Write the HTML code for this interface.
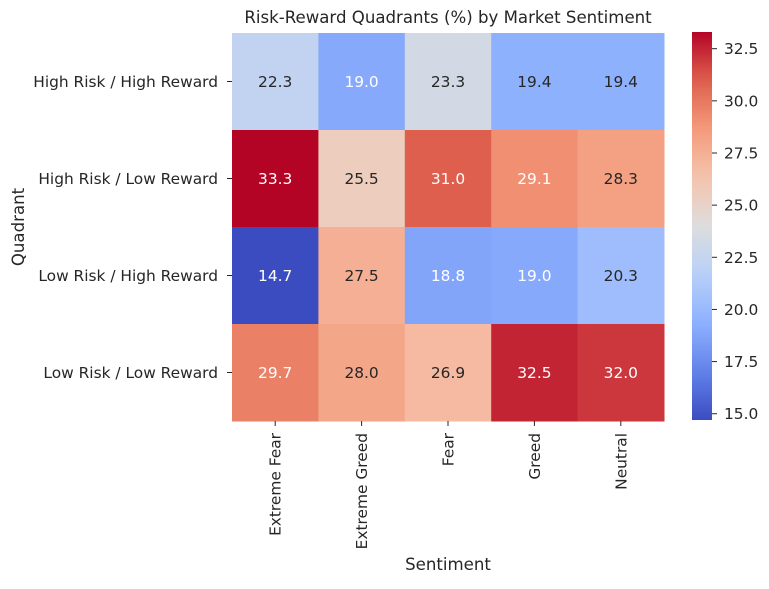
<!DOCTYPE html>
<html><head><meta charset="utf-8"><style>
body{margin:0;background:#fff;font-family:"Liberation Sans","DejaVu Sans",sans-serif;}
svg text{font-family:"DejaVu Sans","Liberation Sans",sans-serif;fill:#262626;}
</style></head><body>
<svg id="c" width="769" height="584"></svg>
<script>
const rows=["High Risk / High Reward","High Risk / Low Reward","Low Risk / High Reward","Low Risk / Low Reward"];
const cols=["Extreme Fear","Extreme Greed","Fear","Greed","Neutral"];
const row0=[22.3,19.0,23.3,19.4,19.4];
const row1=[33.3,25.5,31.0,29.1,28.3];
const row2=[14.7,27.5,18.8,19.0,20.3];
const row3=[29.7,28.0,26.9,32.5,32.0];
const values=[row0,row1,row2,row3];
const cbTicks=[15.0,17.5,20.0,22.5,25.0,27.5,30.0,32.5];
const NS="http://www.w3.org/2000/svg";
const svg=document.getElementById('c');
function el(t,a,p){const e=document.createElementNS(NS,t);for(const k in a)e.setAttribute(k,a[k]);(p||svg).appendChild(e);return e;}
const all=values.flat();const vmin=Math.min(...all),vmax=Math.max(...all);
const stops=[[59,76,192],[98,130,234],[141,176,254],[184,208,249],[221,221,221],[245,196,173],[244,154,123],[222,96,77],[180,4,38]];
function cmap(v){let t=(v-vmin)/(vmax-vmin);t=Math.max(0,Math.min(1,t));const f=t*8;const i=Math.min(7,Math.floor(f));const u=f-i;const a=stops[i],b=stops[i+1];return [0,1,2].map(k=>Math.round(a[k]+(b[k]-a[k])*u));}
function lum(c){const l=c.map(x=>{x/=255;return x<=0.03928?x/12.92:Math.pow((x+0.055)/1.055,2.4);});return 0.2126*l[0]+0.7152*l[1]+0.0722*l[2];}
const FS=15.4;
const X0=232,X1=664,Y0=33,Y1=421;
const cw=(X1-X0)/cols.length,rh=(Y1-Y0)/rows.length;
const xs=j=>X0+j*cw, ys=i=>Y0+i*rh;
values.forEach((r,i)=>r.forEach((v,j)=>{
 const c=cmap(v);
 const rc=el('rect',{x:xs(j),y:ys(i),width:cw+0.5,height:rh+0.5,fill:`rgb(${c})`});
 
 
 const t=el('text',{x:xs(j)+cw/2,y:ys(i)+rh/2+5.5,'text-anchor':'middle','font-size':FS});
 t.textContent=v.toFixed(1);
 t.style.fill=lum(c)>0.408?'#262626':'#ffffff';
 
 
}));
rows.forEach((r,i)=>{
 el('line',{x1:X0-5,x2:X0,y1:ys(i)+rh/2,y2:ys(i)+rh/2,stroke:'#262626'});
 const t=el('text',{x:X0-14,y:ys(i)+rh/2+5.5,'text-anchor':'end','font-size':FS});t.textContent=r;
 
 
});
cols.forEach((c,j)=>{
 const x=xs(j)+cw/2;
 el('line',{x1:x,x2:x,y1:Y1,y2:Y1+5,stroke:'#262626'});
 const t=el('text',{x:x+5.5,y:Y1+12,'text-anchor':'end','font-size':FS,transform:`rotate(-90 ${x+5.5} ${Y1+12})`});t.textContent=c;
 
 
});
const CX=692,CW=20,CY0=32,CY1=420;
const g=el('defs',{});const lg=el('linearGradient',{id:'cg',x1:0,y1:1,x2:0,y2:0},g);
for(let k=0;k<=20;k++){const v=vmin+(vmax-vmin)*k/20;el('stop',{offset:k/20,'stop-color':`rgb(${cmap(v)})`},lg);}
const cb=el('rect',{x:CX,y:CY0,width:CW,height:CY1-CY0,fill:'url(#cg)'});


const cy=v=>CY1-(v-vmin)/(vmax-vmin)*(CY1-CY0);
cbTicks.forEach(v=>{
 const y=cy(v);
 el('line',{x1:CX+CW,x2:CX+CW+5,y1:y,y2:y,stroke:'#262626'});
 const t=el('text',{x:CX+CW+12,y:y+5.5,'font-size':FS});t.textContent=v.toFixed(1);
 
 
});
let t=el('text',{x:448,y:23,'text-anchor':'middle','font-size':16.6});t.textContent='Risk-Reward Quadrants (%) by Market Sentiment';


t=el('text',{x:448,y:570,'text-anchor':'middle','font-size':16.6});t.textContent='Sentiment';


t=el('text',{x:24,y:227,'text-anchor':'middle','font-size':16.6,transform:'rotate(-90 24 227)'});t.textContent='Quadrant';


</script>
</body></html>
